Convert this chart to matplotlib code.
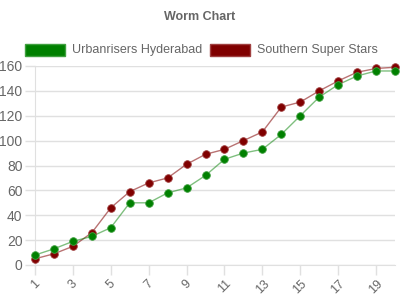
import matplotlib.pyplot as plt

plt.rcParams['font.family'] = ['Liberation Sans', 'DejaVu Sans']

overs = list(range(1, 21))
urbanrisers = [8, 13, 19, 23, 30, 50, 50, 58, 62, 72, 85, 90, 93, 105, 120, 135, 145, 152, 156, 156]
southern = [5, 9, 15, 26, 46, 59, 66, 70, 81, 89, 93, 100, 107, 127, 131, 140, 148, 155, 158, 159]
tick_overs = list(range(1, 21, 2))
y_ticks = list(range(0, 161, 20))

grid_col = '#e0e0e0'
text_col = '#666666'

fig = plt.figure(figsize=(4, 3), dpi=100)
ax = fig.add_axes([35 / 400, 35 / 300, 360 / 400, 199 / 300])

ax.plot(overs, southern, color='#800000', alpha=0.55, lw=1, zorder=2)
ax.plot(overs, southern, 'o', color='#800000', ms=5.5, mec='#a04040', mew=0.6, zorder=3,
        clip_on=False)
ax.plot(overs, urbanrisers, color='#008000', alpha=0.5, lw=1, zorder=2)
ax.plot(overs, urbanrisers, 'o', color='#008000', ms=5.5, mec='#40a040', mew=0.6, zorder=3,
        clip_on=False)

ax.set_xlim(1, 20)
ax.set_ylim(0, 160)
ax.set_xticks(tick_overs)
ax.set_xticklabels([str(t) for t in tick_overs], rotation=45, color=text_col, fontsize=9)
ax.set_yticks(y_ticks)
ax.set_yticklabels([str(t) for t in y_ticks], color=text_col, fontsize=10)
ax.tick_params(axis='both', length=7, color=grid_col, width=1)
ax.tick_params(axis='y', pad=2)
ax.tick_params(axis='x', pad=2)
for lbl in ax.get_xticklabels():
    lbl.set_ha('center')
    lbl.set_va('top')

ax.grid(axis='y', color=grid_col, lw=1)
ax.set_axisbelow(True)
for s in ['top', 'right']:
    ax.spines[s].set_visible(False)
ax.spines['left'].set_color(grid_col)
ax.spines['bottom'].set_color(grid_col)

fig.text(0.5, 1 - 17 / 300, 'Worm Chart', ha='center', va='center',
         fontsize=9, fontweight='bold', color=text_col)

# legend boxes
fig.patches.append(plt.Rectangle((25 / 400, 1 - 56 / 300), 40 / 400, 12 / 300,
                                 transform=fig.transFigure, facecolor='#008000',
                                 edgecolor='#40a040', lw=1))
fig.text(72 / 400, 1 - 50 / 300, 'Urbanrisers Hyderabad', ha='left', va='center',
         fontsize=9, color=text_col)
fig.patches.append(plt.Rectangle((210 / 400, 1 - 56 / 300), 40 / 400, 12 / 300,
                                 transform=fig.transFigure, facecolor='#800000',
                                 edgecolor='#a04040', lw=1))
fig.text(257 / 400, 1 - 50 / 300, 'Southern Super Stars', ha='left', va='center',
         fontsize=9, color=text_col)

fig.savefig('out.png', dpi=100)
